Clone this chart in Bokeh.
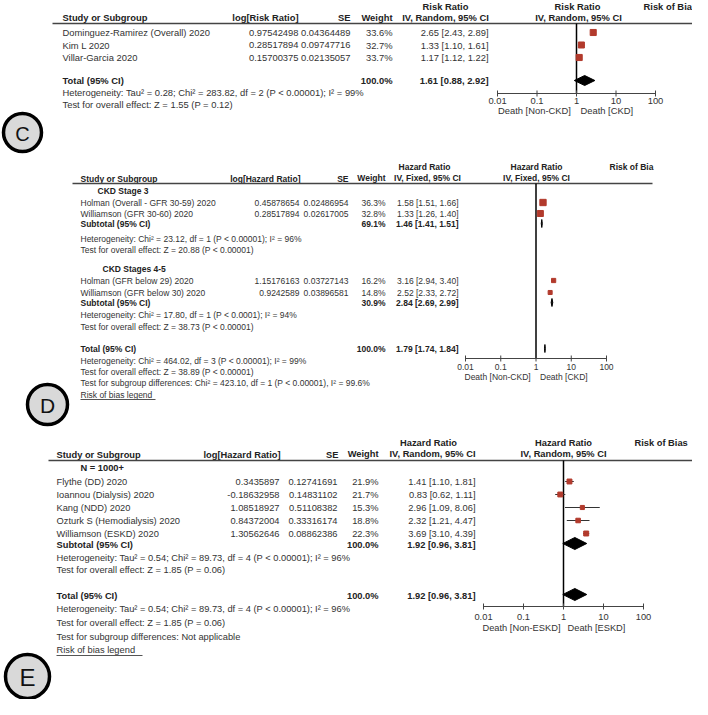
import math
from bokeh.plotting import figure
from bokeh.models import Range1d, LogScale
from bokeh.core.properties import value
from bokeh.embed import file_html
from bokeh.resources import INLINE

# ---------------- data ----------------
TICKS = [0.01, 0.1, 1, 10, 100]
TICK_LABELS = ["0.01", "0.1", "1", "10", "100"]

# Panel C
C_studies = ["Dominguez-Ramirez (Overall) 2020", "Kim L 2020", "Villar-Garcia 2020"]
C_logrr = ["0.97542498", "0.28517894", "0.15700375"]
C_se = ["0.04364489", "0.09747716", "0.02135057"]
C_weight = [33.6, 32.7, 33.7]
C_est = [2.65, 1.33, 1.17]
C_lo = [2.43, 1.10, 1.12]
C_hi = [2.89, 1.61, 1.22]
C_total = [1.61, 0.88, 2.92]
C_total_w = 100.0
C_het = "Heterogeneity: Tau² = 0.28; Chi² = 283.82, df = 2 (P < 0.00001); I² = 99%"
C_test = "Test for overall effect: Z = 1.55 (P = 0.12)"

# Panel D
D_g1_studies = ["Holman (Overall - GFR 30-59) 2020", "Williamson (GFR 30-60) 2020"]
D_g1_loghr = ["0.45878654", "0.28517894"]
D_g1_se = ["0.02486954", "0.02617005"]
D_g1_weight = [36.3, 32.8]
D_g1_est = [1.58, 1.33]
D_g1_lo = [1.51, 1.26]
D_g1_hi = [1.66, 1.40]
D_g1_sub = [1.46, 1.41, 1.51]
D_g1_sub_w = 69.1
D_g2_studies = ["Holman (GFR below 29) 2020", "Williamson (GFR below 30) 2020"]
D_g2_loghr = ["1.15176163", "0.9242589"]
D_g2_se = ["0.03727143", "0.03896581"]
D_g2_weight = [16.2, 14.8]
D_g2_est = [3.16, 2.52]
D_g2_lo = [2.94, 2.33]
D_g2_hi = [3.40, 2.72]
D_g2_sub = [2.84, 2.69, 2.99]
D_g2_sub_w = 30.9
D_total = [1.79, 1.74, 1.84]
D_total_w = 100.0

# Panel E
E_studies = ["Flythe (DD) 2020", "Ioannou (Dialysis) 2020", "Kang (NDD) 2020",
             "Ozturk S (Hemodialysis) 2020", "Williamson (ESKD) 2020"]
E_loghr = ["0.3435897", "-0.18632958", "1.08518927", "0.84372004", "1.30562646"]
E_se = ["0.12741691", "0.14831102", "0.51108382", "0.33316174", "0.08862386"]
E_weight = [21.9, 21.7, 15.3, 18.8, 22.3]
E_est = [1.41, 0.83, 2.96, 2.32, 3.69]
E_lo = [1.10, 0.62, 1.09, 1.21, 3.10]
E_hi = [1.81, 1.11, 8.06, 4.47, 4.39]
E_sub = [1.92, 0.96, 3.81]
E_total = [1.92, 0.96, 3.81]
E_sub_w = 100.0
E_total_w = 100.0

# ---------------- figure ----------------
W, H = 692, 699
X0, Y0 = 0, 0   # picture pixel of the frame's top-left corner
FONT = "Liberation Sans"
RED = "#B23A2C"
TXT = "#333333"
BTXT = "#222222"

p = figure(width=W, height=H, output_backend="svg", toolbar_location=None,
           x_range=Range1d(X0, X0 + W), y_range=Range1d(Y0 + H, Y0),
           min_border=0, x_axis_location=None, y_axis_location=None)
p.xgrid.visible = False
p.ygrid.visible = False
p.outline_line_color = None
p.background_fill_color = "white"

xr, xs = {}, {}


def add_log(name, x0, x1):
    ppd = (x1 - x0) / 4.0
    lo = 10 ** (-2 + (X0 - x0) / ppd)
    hi = 10 ** (-2 + (X0 + W - x0) / ppd)
    xr[name] = Range1d(lo, hi)
    xs[name] = LogScale()


def T(x, y, s, size, bold=False, align="left", color=None, rname="default", xoff=0):
    p.text(x=[x], y=[y], text=[s], text_font=value(FONT),
           text_font_size=value(f"{size}px"),
           text_font_style="bold" if bold else "normal",
           text_align=align, text_baseline="middle",
           text_color=color or (BTXT if bold else TXT),
           x_range_name=rname, x_offset=xoff)


def ci_str(v):
    return f"{v[0]:.2f} [{v[1]:.2f}, {v[2]:.2f}]"


def study_rows(names, lr, se, w, est, lo, hi, ys, cols, fs):
    for i in range(len(names)):
        T(cols["name"], ys[i], names[i], fs)
        T(cols["lr"], ys[i], lr[i], fs, align="right")
        T(cols["se"], ys[i], se[i], fs, align="right")
        T(cols["w"], ys[i], f"{w[i]:.1f}%", fs, align="right")
        T(cols["ci"], ys[i], ci_str([est[i], lo[i], hi[i]]), fs, align="right")


def forest_marks(name, est, lo, hi, w, ys):
    p.segment(x0=lo, x1=hi, y0=ys, y1=ys, x_range_name=name,
              line_color="#333333", line_width=1)
    p.scatter(x=est, y=ys, size=[1.05 * math.sqrt(v) for v in w], marker="square",
              fill_color=RED, line_color=RED, x_range_name=name)


def diamond(name, v, y, h):
    p.patches(xs=[[v[1], v[0], v[2], v[0]]], ys=[[y, y - h, y, y + h]],
              x_range_name=name, fill_color="black", line_color="black", line_width=1)


def axis(name, y_top, y_ax, fs, left_lab, right_lab, dt, dl):
    p.segment(x0=[1], x1=[1], y0=[y_top], y1=[y_ax], x_range_name=name,
              line_color="black", line_width=1.5)
    p.segment(x0=[TICKS[0]], x1=[TICKS[-1]], y0=[y_ax], y1=[y_ax], x_range_name=name,
              line_color="#444444", line_width=1)
    p.segment(x0=TICKS, x1=TICKS, y0=[y_ax - 3] * 5, y1=[y_ax + 3] * 5,
              x_range_name=name, line_color="#444444", line_width=1)
    p.text(x=TICKS, y=[y_ax + dt] * 5, text=TICK_LABELS, x_range_name=name,
           text_font=value(FONT), text_font_size=value(f"{fs}px"),
           text_align="center", text_baseline="middle", text_color=TXT)
    T(1, y_ax + dl, left_lab, fs, align="right", rname=name, xoff=-3)
    T(1, y_ax + dl, right_lab, fs, align="left", rname=name, xoff=4)


def rule(x0, x1, y):
    p.segment(x0=[x0], x1=[x1], y0=[y], y1=[y], line_color="#444444", line_width=1.3)


def badge(x, y, d, letter, fs):
    p.scatter(x=[x], y=[y], size=d, marker="circle", fill_color="#d9d9d9",
              line_color="black", line_width=3.5)
    T(x, y + 1, letter, fs, align="center", color="#111111")


# ---------------- Panel C ----------------
fsC = 9.4
add_log("C", 497, 655)
colsC = dict(name=62, lr=298, se=350, w=392, ci=488)
T(62, 17, "Study or Subgroup", fsC, bold=True)
T(298, 17, "log[Risk Ratio]", fsC, bold=True, align="right")
T(350, 17, "SE", fsC, bold=True, align="right")
T(392, 17, "Weight", fsC, bold=True, align="right")
T(445, 6, "Risk Ratio", fsC, bold=True, align="center")
T(445, 17, "IV, Random, 95% CI", fsC, bold=True, align="center")
T(577, 6, "Risk Ratio", fsC, bold=True, align="center")
T(578, 17, "IV, Random, 95% CI", fsC, bold=True, align="center")
T(643, 6, "Risk of Bia", fsC, bold=True)
rule(52, 703, 23)
yC = [32, 44.5, 57]
study_rows(C_studies, C_logrr, C_se, C_weight, C_est, C_lo, C_hi, yC, colsC, fsC)
T(62, 80, "Total (95% CI)", fsC, bold=True)
T(392, 80, f"{C_total_w:.1f}%", fsC, bold=True, align="right")
T(488, 80, ci_str(C_total), fsC, bold=True, align="right")
T(62, 92, C_het, fsC)
T(62, 104, C_test, fsC)
axis("C", 23, 93, fsC, "Death  [Non-CKD]", "Death [CKD]", 7.5, 16.5)
forest_marks("C", C_est, C_lo, C_hi, C_weight, yC)
diamond("C", C_total, 80, 5)
badge(22, 132, 38, "C", 20)

# ---------------- Panel D ----------------
fsD = 8.5
add_log("D", 465, 606)
colsD = dict(name=80, lr=299, se=348, w=385, ci=458)
T(80, 178, "Study or Subgroup", fsD, bold=True)
T(300, 178, "log[Hazard Ratio]", fsD, bold=True, align="right")
T(348, 178, "SE", fsD, bold=True, align="right")
T(385, 177, "Weight", fsD, bold=True, align="right")
T(424, 166, "Hazard Ratio", fsD, bold=True, align="center")
T(427, 177, "IV, Fixed, 95% CI", fsD, bold=True, align="center")
T(536, 166, "Hazard Ratio", fsD, bold=True, align="center")
T(536, 177, "IV, Fixed, 95% CI", fsD, bold=True, align="center")
T(609, 166, "Risk of Bia", fsD, bold=True)
rule(72, 652, 183)
T(97, 190, "CKD Stage 3", fsD, bold=True)
yD1 = [202, 213]
study_rows(D_g1_studies, D_g1_loghr, D_g1_se, D_g1_weight, D_g1_est, D_g1_lo, D_g1_hi, yD1, colsD, fsD)
T(80, 223, "Subtotal (95% CI)", fsD, bold=True)
T(385, 223, f"{D_g1_sub_w:.1f}%", fsD, bold=True, align="right")
T(458, 223, ci_str(D_g1_sub), fsD, bold=True, align="right")
T(80, 238, "Heterogeneity: Chi² = 23.12, df = 1 (P < 0.00001); I² = 96%", fsD)
T(80, 249, "Test for overall effect: Z = 20.88 (P < 0.00001)", fsD)
T(102, 268, "CKD Stages 4-5", fsD, bold=True)
yD2 = [280, 292]
study_rows(D_g2_studies, D_g2_loghr, D_g2_se, D_g2_weight, D_g2_est, D_g2_lo, D_g2_hi, yD2, colsD, fsD)
T(80, 302, "Subtotal (95% CI)", fsD, bold=True)
T(385, 302, f"{D_g2_sub_w:.1f}%", fsD, bold=True, align="right")
T(458, 302, ci_str(D_g2_sub), fsD, bold=True, align="right")
T(80, 314, "Heterogeneity: Chi² = 17.80, df = 1 (P < 0.0001); I² = 94%", fsD)
T(80, 326, "Test for overall effect: Z = 38.73 (P < 0.00001)", fsD)
T(80, 348, "Total (95% CI)", fsD, bold=True)
T(385, 348, f"{D_total_w:.1f}%", fsD, bold=True, align="right")
T(458, 348, ci_str(D_total), fsD, bold=True, align="right")
T(80, 360, "Heterogeneity: Chi² = 464.02, df = 3 (P < 0.00001); I² = 99%", fsD)
T(80, 371, "Test for overall effect: Z = 38.89 (P < 0.00001)", fsD)
T(80, 382, "Test for subgroup differences: Chi² = 423.10, df = 1 (P < 0.00001), I² = 99.6%", fsD)
T(80, 394, "Risk of bias legend", fsD)
p.segment(x0=[80], x1=[155], y0=[399], y1=[399], line_color="#555555", line_width=1)
axis("D", 183, 358, fsD, "Death  [Non-CKD]", "Death [CKD]", 8, 18)
forest_marks("D", D_g1_est + D_g2_est, D_g1_lo + D_g2_lo, D_g1_hi + D_g2_hi,
             D_g1_weight + D_g2_weight, yD1 + yD2)
diamond("D", D_g1_sub, 223, 4)
diamond("D", D_g2_sub, 302, 4)
diamond("D", D_total, 348, 4)
badge(47, 404, 40, "D", 21)

# ---------------- Panel E ----------------
fsE = 9.3
add_log("E", 483, 643)
colsE = dict(name=56, lr=279, se=337, w=378, ci=475)
T(56, 454, "Study or Subgroup", fsE, bold=True)
T(280, 454, "log[Hazard Ratio]", fsE, bold=True, align="right")
T(338, 454, "SE", fsE, bold=True, align="right")
T(378, 453, "Weight", fsE, bold=True, align="right")
T(428, 442, "Hazard Ratio", fsE, bold=True, align="center")
T(432, 453, "IV, Random, 95% CI", fsE, bold=True, align="center")
T(563, 442, "Hazard Ratio", fsE, bold=True, align="center")
T(563, 453, "IV, Random, 95% CI", fsE, bold=True, align="center")
T(634, 442, "Risk of Bias", fsE, bold=True)
rule(48, 705, 460)
T(80, 467, "N = 1000+", fsE, bold=True)
yE = [481, 494, 507, 520, 533]
study_rows(E_studies, E_loghr, E_se, E_weight, E_est, E_lo, E_hi, yE, colsE, fsE)
T(56, 544, "Subtotal (95% CI)", fsE, bold=True)
T(378, 544, f"{E_sub_w:.1f}%", fsE, bold=True, align="right")
T(475, 544, ci_str(E_sub), fsE, bold=True, align="right")
T(56, 557, "Heterogeneity: Tau² = 0.54; Chi² = 89.73, df = 4 (P < 0.00001); I² = 96%", fsE)
T(56, 569, "Test for overall effect: Z = 1.85 (P = 0.06)", fsE)
T(56, 595, "Total (95% CI)", fsE, bold=True)
T(378, 595, f"{E_total_w:.1f}%", fsE, bold=True, align="right")
T(475, 595, ci_str(E_total), fsE, bold=True, align="right")
T(56, 608, "Heterogeneity: Tau² = 0.54; Chi² = 89.73, df = 4 (P < 0.00001); I² = 96%", fsE)
T(56, 622, "Test for overall effect: Z = 1.85 (P = 0.06)", fsE)
T(56, 636, "Test for subgroup differences: Not applicable", fsE)
T(56, 649, "Risk of bias legend", fsE)
p.segment(x0=[56], x1=[142], y0=[655], y1=[655], line_color="#555555", line_width=1)
axis("E", 460, 606, fsE, "Death [Non-ESKD]", "Death [ESKD]", 10.5, 21.5)
forest_marks("E", E_est, E_lo, E_hi, E_weight, yE)
diamond("E", E_sub, 543, 6)
diamond("E", E_total, 594, 6)
badge(27, 676, 44, "E", 24)

p.extra_x_ranges = xr
p.extra_x_scales = xs

open("out.html", "w").write(file_html(p, INLINE))
